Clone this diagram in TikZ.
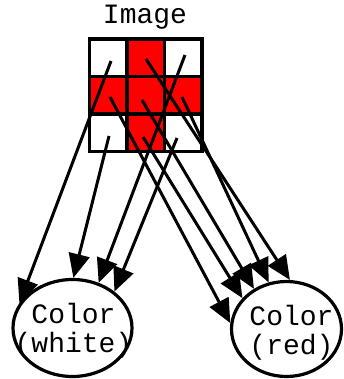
\documentclass[tikz,border=0pt]{standalone}
\usepackage{fontspec}
\setmonofont{Liberation Mono}
\usetikzlibrary{arrows.meta,shapes.geometric}
\tikzset{
  cellline/.style={line width=3.2pt},
  edgeline/.style={line width=3pt,-{Triangle[length=24pt,width=21pt]}},
  colornode/.style={draw,ellipse,line width=3.2pt,inner sep=0pt},
  lbl/.style={font=\fontsize{28}{29}\selectfont\ttfamily,align=center,inner sep=0pt},
}
\begin{document}
\begin{tikzpicture}[x=1pt,y=-1pt]
\useasboundingbox (0,0) rectangle (343,379);
% red cells
\fill[red] (127,39) rectangle (164.5,76.5);
\fill[red] (89.5,76.5) rectangle (202,114);
\fill[red] (127,114) rectangle (164.5,151.5);
% grid
\draw[cellline] (89.5,39) rectangle (202,151.5);
\draw[cellline] (127,39) -- (127,151.5);
\draw[cellline] (164.5,39) -- (164.5,151.5);
\draw[cellline] (89.5,76.5) -- (202,76.5);
\draw[cellline] (89.5,114) -- (202,114);
\node[lbl] (img) at (145,17) {Image};
% ellipses
\node[colornode,minimum width=119pt,minimum height=97pt] (w) at (72.5,328) {};
\node[colornode,minimum width=110pt,minimum height=95pt] (r) at (286.5,329) {};
\node[lbl] (wl) at (73.5,331) {Color\\(white)};
\node[lbl] (rl) at (291.5,333) {Color\\(red)};
% start points
\coordinate (s00) at (111,61);
\coordinate (s01) at (146,59);
\coordinate (s02) at (185,55);
\coordinate (s10) at (110,97);
\coordinate (s11) at (142,100);
\coordinate (s12) at (182,97);
\coordinate (s20) at (109,136);
\coordinate (s21) at (143,137);
\coordinate (s22) at (177,138);
% edges to white
\draw[edgeline] (s00) -- (w.155.7);
\draw[edgeline] (s20) -- (w.89.5);
\draw[edgeline] (s02) -- (w.60.7);
\draw[edgeline] (s22) -- (w.41);
% edges to red
\draw[edgeline] (s10) -- (r.174);
\draw[edgeline] (s21) -- (r.145.5);
\draw[edgeline] (s11) -- (r.129);
\draw[edgeline] (s12) -- (r.111.5);
\draw[edgeline] (s01) -- (r.86);
\end{tikzpicture}
\end{document}
